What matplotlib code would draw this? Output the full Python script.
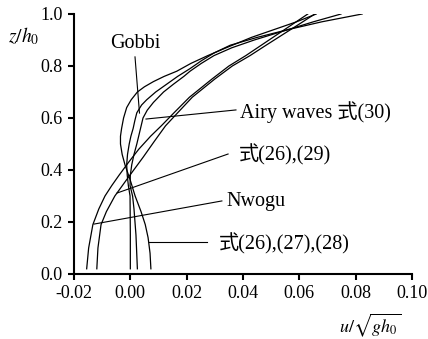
import matplotlib
matplotlib.use("Agg")
import matplotlib.pyplot as plt
from matplotlib.ticker import FormatStrFormatter

plt.rcParams["font.family"] = ["Liberation Serif", "Noto Sans CJK SC"]
plt.rcParams["mathtext.fontset"] = "stix"
plt.rcParams["axes.unicode_minus"] = False

# velocity profiles: (u/sqrt(g h0), z/h0)
nwogu_z = [0.02, 0.10, 0.19, 0.25, 0.30, 0.34, 0.38, 0.43, 0.48, 0.53, 0.57, 0.62, 0.68, 0.75, 0.80, 0.84, 0.88, 0.92, 0.96, 1.00]
nwogu_u = [-0.0155, -0.0148, -0.0133, -0.0112, -0.0090, -0.0066, -0.0040, -0.0006, 0.0030, 0.0072, 0.0110, 0.0155, 0.0210, 0.0290, 0.0350, 0.0410, 0.0465, 0.0520, 0.0575, 0.0630]

eq2629_z = [0.02, 0.10, 0.19, 0.24, 0.27, 0.30, 0.33, 0.36, 0.40, 0.45, 0.51, 0.57, 0.62, 0.68, 0.75, 0.80, 0.84, 0.88, 0.92, 0.96, 1.00]
eq2629_u = [-0.0119, -0.0115, -0.0104, -0.0085, -0.0070, -0.0055, -0.0035, -0.0015, 0.0012, 0.0046, 0.0085, 0.0125, 0.0168, 0.0220, 0.0300, 0.0362, 0.0425, 0.0482, 0.0540, 0.0598, 0.0655]

eq262728_z = [0.02, 0.08, 0.14, 0.19, 0.24, 0.30, 0.36, 0.42, 0.46, 0.50, 0.53, 0.56, 0.60, 0.64, 0.67, 0.70, 0.72, 0.74, 0.76, 0.78, 0.81, 0.84, 0.87, 0.91, 0.94, 0.97, 1.00]
eq262728_u = [0.0073, 0.0070, 0.0063, 0.0053, 0.0038, 0.0017, 0.0000, -0.0019, -0.0029, -0.0035, -0.0035, -0.0031, -0.0024, -0.0013, 0.0003, 0.0025, 0.0050, 0.0082, 0.0120, 0.0165, 0.0215, 0.0275, 0.0340, 0.0430, 0.0510, 0.0590, 0.0660]

gobbi_z = [0.02, 0.15, 0.30, 0.34, 0.38, 0.42, 0.46, 0.50, 0.53, 0.56, 0.59, 0.62, 0.65, 0.67, 0.70, 0.73, 0.76, 0.79, 0.82, 0.85, 0.88, 0.91, 0.94, 0.97, 1.00]
gobbi_u = [0.0000, 0.0000, -0.0001, -0.0007, -0.0011, -0.0013, -0.0010, -0.0004, 0.0002, 0.0010, 0.0016, 0.0023, 0.0040, 0.0058, 0.0090, 0.0129, 0.0168, 0.0212, 0.0252, 0.0297, 0.0355, 0.0450, 0.0560, 0.0650, 0.0748]

airy_z = [0.02, 0.15, 0.25, 0.30, 0.34, 0.38, 0.42, 0.46, 0.50, 0.55, 0.60, 0.63, 0.66, 0.70, 0.73, 0.76, 0.78, 0.81, 0.84, 0.87, 0.90, 0.94, 0.97, 1.00]
airy_u = [0.0025, 0.0020, 0.0013, 0.0008, -0.0001, 0.0000, 0.0005, 0.0013, 0.0023, 0.0034, 0.0045, 0.0060, 0.0082, 0.0118, 0.0153, 0.0190, 0.0212, 0.0252, 0.0297, 0.0360, 0.0440, 0.0560, 0.0680, 0.0823]

# labels: text, text anchor (u, z), pointer start, pointer end
labels = ["Gobbi", "Airy waves 式(30)", "式(26),(29)", "Nwogu", "式(26),(27),(28)"]
label_u = [-0.0072, 0.0389, 0.0386, 0.0340, 0.0315]
label_z = [0.885, 0.623, 0.458, 0.277, 0.117]
ptr_u0 = [0.00166, 0.0375, 0.0347, 0.0325, 0.0272]
ptr_z0 = [0.835, 0.631, 0.4615, 0.281, 0.123]
ptr_u1 = [0.00325, 0.00556, -0.0047, -0.0129, 0.0066]
ptr_z1 = [0.619, 0.596, 0.3115, 0.192, 0.123]

xticks = [-0.02, 0.00, 0.02, 0.04, 0.06, 0.08, 0.10]
yticks = [0.0, 0.2, 0.4, 0.6, 0.8, 1.0]

fig = plt.figure(figsize=(4.28, 3.39), dpi=100)
ax = fig.add_axes([74 / 428, 65 / 339, 338 / 428, 260 / 339])

for u, z in [(nwogu_u, nwogu_z), (eq2629_u, eq2629_z), (eq262728_u, eq262728_z),
             (gobbi_u, gobbi_z), (airy_u, airy_z)]:
    ax.plot(u, z, color="black", lw=0.9)

for i, text in enumerate(labels):
    ax.plot([ptr_u0[i], ptr_u1[i]], [ptr_z0[i], ptr_z1[i]], color="black", lw=0.8)
    ax.text(label_u[i], label_z[i], text, fontsize=14.5, ha="left", va="center")

ax.set_xlim(-0.02, 0.10)
ax.set_ylim(0.0, 1.0)
ax.set_xticks(xticks)
ax.set_yticks(yticks)
ax.xaxis.set_major_formatter(FormatStrFormatter("%.2f"))
ax.yaxis.set_major_formatter(FormatStrFormatter("%.1f"))
ax.tick_params(direction="out", length=4, width=1.5, labelsize=13, pad=4)

for side in ["top", "right"]:
    ax.spines[side].set_visible(False)
for side in ["left", "bottom"]:
    ax.spines[side].set_linewidth(1.5)

fig.text(24 / 428, 1 - 36 / 339, r"$z/h_0$", fontsize=14, ha="center", va="center")
fig.text(370 / 428, 1 - 325 / 339, r"$u/\sqrt{gh_0}$", fontsize=13, ha="center", va="center")

fig.savefig("out.png", dpi=100)
